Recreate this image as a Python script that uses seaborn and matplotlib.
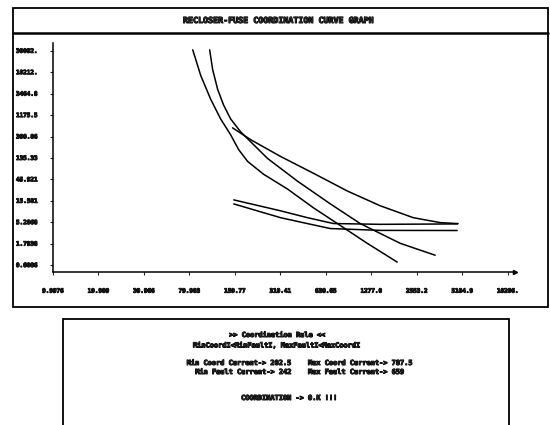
import matplotlib
matplotlib.use("Agg")
import matplotlib.pyplot as plt
import matplotlib.patheffects as pe
from matplotlib.patches import Rectangle
from matplotlib.lines import Line2D
import seaborn as sns
import pandas as pd

# chart text
title = "RECLOSER-FUSE COORDINATION CURVE GRAPH"
rule_lines = [">> Coordination Rule <<", "MinCoordI<MinFaultI, MaxFaultI<MaxCoordI"]
left_col = ["Min Coord Current-> 202.5", "Min Fault Current-> 242"]
right_col = ["Max Coord Current-> 787.5", "Max Fault Current-> 659"]
result = "COORDINATION -> O.K !!!"

# axis ticks (log spaced)
x_ticks = [9.9976, 19.989, 39.966, 79.903, 159.77, 319.41, 638.65, 1277.0, 2553.2, 5104.9, 10206]
x_tick_labels = ["9.9976", "19.989", "39.966", "79.903", "159.77", "319.41",
                 "638.65", "1277.0", "2553.2", "5104.9", "10206."]
y_ticks = [0.6086, 1.7938, 5.2868, 15.581, 45.921, 135.33, 398.86, 1175.5, 3464.8, 10212, 30092]
y_tick_labels = ["0.6086", "1.7938", "5.2868", "15.581", "45.921", "135.33",
                 "398.86", "1175.5", "3464.8", "10212.", "30092."]

# curves: current vs time
fuse_mm_x = [84.0, 94.9, 110.4, 128.5, 149.6, 169.0, 193.7, 247.0, 355.9, 528.4, 796.5, 1200, 1894]
fuse_mm_y = [31650, 8660, 2622, 968, 436, 206.7, 113.7, 59.5, 28.2, 10.94, 4.47, 1.82, 0.707]
fuse_tc_x = [108.7, 113.8, 122.8, 134.5, 149.7, 174.2, 202.8, 262.6, 414, 684, 1079, 1984, 3375]
fuse_tc_y = [31700, 11670, 4312, 1944, 967, 506, 307, 132, 42, 13.3, 4.93, 1.82, 1.00]
recl_slow_x = [154, 203, 320, 528, 886, 1463, 2416, 3641, 4789]
recl_slow_y = [618, 340, 146, 62.5, 25.5, 12.1, 6.65, 5.18, 4.93]
recl_fast1_x = [157, 320, 482, 716, 1463, 4750]
recl_fast1_y = [16.3, 9.4, 6.65, 4.95, 4.75, 4.85]
recl_fast2_x = [157, 320, 482, 684, 1463, 4717]
recl_fast2_y = [13.3, 6.65, 4.93, 3.84, 3.5, 3.48]

curves = {
    "fuse_mm": (fuse_mm_x, fuse_mm_y),
    "fuse_tc": (fuse_tc_x, fuse_tc_y),
    "recl_slow": (recl_slow_x, recl_slow_y),
    "recl_fast1": (recl_fast1_x, recl_fast1_y),
    "recl_fast2": (recl_fast2_x, recl_fast2_y),
}
rows = []
for name, (xs, ys) in curves.items():
    for i, (xv, yv) in enumerate(zip(xs, ys)):
        rows.append({"curve": name, "order": i, "current": xv, "time": yv})
df = pd.DataFrame(rows)

sns.set_style("white")
plt.rcParams["font.family"] = ["DejaVu Sans Mono"]
plt.rcParams["font.weight"] = "bold"

# heavy "dot matrix" look for all text
heavy = [pe.withStroke(linewidth=0.7, foreground="black")]

fig = plt.figure(figsize=(5.5, 4.25), dpi=100)
ax = fig.add_axes([53 / 550, 1 - 272 / 425, (515 - 53) / 550, (272 - 43) / 425])

sns.lineplot(data=df, x="current", y="time", units="curve", estimator=None,
             sort=False, color="black", linewidth=1.1, ax=ax, legend=False)

ax.set_xscale("log")
ax.set_yscale("log")
ax.set_xlim(9.9976, 11390)
ax.set_ylim(0.429, 44600)
ax.set_xticks(x_ticks)
ax.set_xticklabels(x_tick_labels)
ax.set_yticks(y_ticks)
ax.set_yticklabels(y_tick_labels)
ax.minorticks_off()
ax.tick_params(axis="x", length=2, width=0.8, pad=10, labelsize=4.3, direction="out", bottom=True)
ax.tick_params(axis="y", length=2, width=0.8, pad=9, labelsize=4.3, direction="out", left=True)
for lab in ax.get_xticklabels() + ax.get_yticklabels():
    lab.set_path_effects(heavy)
ax.set_xlabel("")
ax.set_ylabel("")
for s in ["top", "right"]:
    ax.spines[s].set_visible(False)
for s in ["left", "bottom"]:
    ax.spines[s].set_color("black")
    ax.spines[s].set_linewidth(1.1)
ax.plot(1, 0, ">", color="black", markersize=3, transform=ax.transAxes, clip_on=False)

# outer frame with title bar
fig.add_artist(Rectangle((13 / 550, 1 - 307 / 425), 535 / 550, 299 / 425,
                         transform=fig.transFigure, fill=False, ec="black", lw=1.3))
fig.add_artist(Line2D([13 / 550, 548 / 550], [1 - 33 / 425] * 2,
                      transform=fig.transFigure, color="black", lw=1.8))
fig.text(278 / 550, 1 - 20.5 / 425, title, ha="center", va="center", fontsize=6,
         path_effects=heavy)

# result box
fig.add_artist(Rectangle((63 / 550, -0.02), 446 / 550, 0.02 + 1 - 319 / 425,
                         transform=fig.transFigure, fill=False, ec="black", lw=1.3))
fig.text(278 / 550, 1 - 335 / 425, rule_lines[0], ha="center", va="center", fontsize=5,
         path_effects=heavy)
fig.text(278 / 550, 1 - 345 / 425, rule_lines[1], ha="center", va="center", fontsize=5,
         path_effects=heavy)
for yy, lt, rt in zip([363, 372], left_col, right_col):
    fig.text(293 / 550, 1 - yy / 425, lt, ha="right", va="center", fontsize=5, path_effects=heavy)
    fig.text(308 / 550, 1 - yy / 425, rt, ha="left", va="center", fontsize=5, path_effects=heavy)
fig.text(290 / 550, 1 - 398 / 425, result, ha="center", va="center", fontsize=5,
         path_effects=heavy)

fig.savefig("out.png", dpi=100)
